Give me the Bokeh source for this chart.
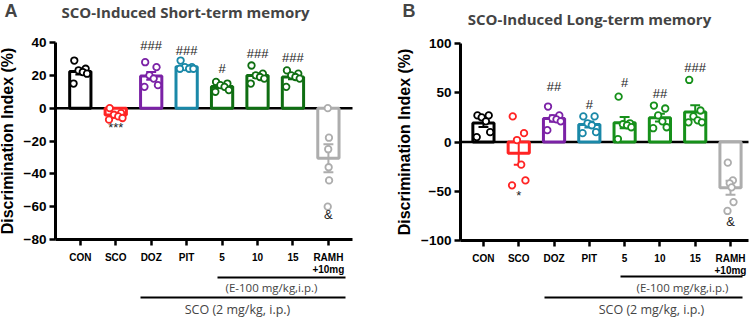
import numpy as np
from bokeh.plotting import figure
from bokeh.models import Range1d, FixedTicker, Label, Arrow, ColumnDataSource
from bokeh.layouts import row
from bokeh.core.properties import value
from bokeh.embed import file_html
from bokeh.resources import INLINE

# ---- data -------------------------------------------------------------
groups = ["CON", "SCO", "DOZ", "PIT", "5", "10", "15", "RAMH"]
tick_labels = ["CON", "SCO", "DOZ", "PIT", "5", "10", "15", "RAMH\n+10mg"]

# Short-term memory, discrimination index (%) per animal
stm_con = [29, 24, 23, 22, 21, 15]
stm_sco = [0, -3, -4, -5, -6, -7]
stm_doz = [28, 25, 20, 18, 14, 13]
stm_pit = [29, 25, 25, 24, 24, 24]
stm_e5 = [16, 15, 14, 13, 11, 10]
stm_e10 = [26, 21, 20, 19, 18, 15]
stm_e15 = [23, 21, 20, 19, 18, 13]
stm_ramh = [0, -18, -25, -36, -44, -60]
stm_marks = ["", "***", "###", "###", "#", "###", "###", "&"]
stm_mark_y = [0, -12, 38, 35, 24, 33, 31, -65]

# Long-term memory, discrimination index (%) per animal
ltm_con = [27, 27, 25, 21, 10, 5]
ltm_sco = [26, 9, 2, -23, -39, -44]
ltm_doz = [36, 27, 24, 23, 21, 12]
ltm_pit = [26, 26, 19, 17, 10, 9]
ltm_e5 = [46, 19, 18, 17, 15, 3]
ltm_e10 = [37, 34, 27, 21, 15, 14]
ltm_e15 = [63, 32, 26, 22, 20, 20]
ltm_ramh = [-21, -39, -42, -46, -61, -70]
ltm_marks = ["", "*", "##", "#", "#", "##", "###", "&"]
ltm_mark_y = [0, -54, 56, 38.5, 60, 49, 76, -81]

colors_a = ["#000000", "#ff2424", "#7b22a6", "#1a88a8", "#0f6e12", "#0f6e12", "#0f6e12", "#adadad"]
colors_b = ["#000000", "#ff2424", "#7b22a6", "#1a88a8", "#16901a", "#16901a", "#16901a", "#adadad"]

# horizontal spread of the individual points inside each bar
spread = [-0.17, 0.15, -0.05, 0.07, 0.19, -0.19]
spread_scale_a = [1, 1, 1, 1, 1, 1, 1, 0.1]
spread_scale_b = [1, 1, 1, 1, 1, 1, 1, 0.45]

ARIAL = "Liberation Sans"
OPEN = "Open Sans"
W, H = 375, 317


def make_panel(series, colors, marks, mark_y, geo, letter, title, title_xy,
               letter_xy, yticks, label_standoff, notes, spread_scale):
    # geo gives the pixel box of the axes and the data span it covers;
    # the plotting frame fills the whole figure so texts around it show.
    left, top, fw, fh = geo["left"], geo["top"], geo["w"], geo["h"]
    x0, x1 = geo["xr"]
    y0, y1 = geo["yr"]
    sx = fw / (x1 - x0)
    sy = fh / (y1 - y0)
    X0, X1 = x0 - left / sx, x0 + (W - left) / sx
    Y0, Y1 = y1 - (H - top) / sy, y1 + top / sy

    p = figure(width=W, height=H, output_backend="svg", toolbar_location=None,
               x_range=Range1d(X0, X1), y_range=Range1d(Y0, Y1),
               min_border=0, min_border_left=0, min_border_right=0,
               min_border_top=0, min_border_bottom=0)
    p.outline_line_color = None
    p.xgrid.visible = False
    p.ygrid.visible = False

    def at(px, py):
        return (x0 + (px - left) / sx, y1 - (py - top) / sy)

    xs = list(range(len(groups)))
    means = [float(np.mean(v)) for v in series]
    sems = [float(np.std(v, ddof=1) / np.sqrt(len(v))) for v in series]

    # zero line across the axis box
    p.segment(x0=[x0], x1=[x1], y0=[0], y1=[0], line_color="black", line_width=2.5)

    bars = ColumnDataSource(dict(x=xs, top=means, color=colors))
    p.vbar(x="x", top="top", bottom=0, width=0.6, source=bars,
           fill_color="white", line_color="color", line_width=3)

    lo = [m - s for m, s in zip(means, sems)]
    hi = [m + s for m, s in zip(means, sems)]
    p.segment(x0=xs, x1=xs, y0=lo, y1=hi, line_color=colors, line_width=2)
    cap = 0.14
    for ys in (lo, hi):
        p.segment(x0=[x - cap for x in xs], x1=[x + cap for x in xs],
                  y0=ys, y1=ys, line_color=colors, line_width=2)

    px_, py_, pc = [], [], []
    for i, vals in enumerate(series):
        for j, v in enumerate(vals):
            px_.append(i + spread_scale[i] * spread[j % len(spread)])
            py_.append(v)
            pc.append(colors[i])
    p.scatter(x=px_, y=py_, marker="circle", size=6.5, fill_color="white",
              line_color=pc, line_width=1.8)

    msrc = ColumnDataSource(dict(x=xs, y=mark_y, t=marks))
    p.text(x="x", y="y", text="t", source=msrc, text_align="center",
           text_baseline="middle", text_font=value(ARIAL), text_font_size="13px",
           text_color="#222222")

    # axes, pinned to the edges of the axis box
    p.yaxis.fixed_location = x0
    p.yaxis.bounds = (y0, y1)
    p.xaxis.fixed_location = y0
    p.xaxis.bounds = (x0, x1)
    p.yaxis.ticker = FixedTicker(ticks=yticks)
    p.xaxis.ticker = FixedTicker(ticks=xs)
    p.xaxis.major_label_overrides = {i: t for i, t in enumerate(tick_labels)}
    for ax in (p.xaxis[0], p.yaxis[0]):
        ax.axis_line_width = 3
        ax.major_tick_line_width = 2.5
        ax.major_tick_out = 6
        ax.major_tick_in = 0
        ax.minor_tick_out = 0
        ax.minor_tick_in = 0
        ax.major_label_text_font = ARIAL
        ax.major_label_text_font_style = "bold"
        ax.major_label_text_color = "black"
    p.yaxis.major_label_text_font_size = "13.5px"
    p.yaxis.major_label_standoff = 3
    p.xaxis.major_label_text_font_size = "10px"
    p.xaxis.major_label_standoff = 6
    p.xaxis.major_label_text_line_height = 1.1
    p.yaxis.axis_label = "Discrimination Index (%)"
    p.yaxis.axis_label_text_font = ARIAL
    p.yaxis.axis_label_text_font_size = "16px"
    p.yaxis.axis_label_text_font_style = "bold"
    p.yaxis.axis_label_text_color = "black"
    p.yaxis.axis_label_standoff = label_standoff

    # panel letter and title
    lx, ly = at(*letter_xy)
    p.add_layout(Label(x=lx, y=ly, text=letter, text_font=ARIAL,
                       text_font_size="18px", text_font_style="bold",
                       text_align="left", text_baseline="middle"))
    tx, ty = at(*title_xy)
    p.add_layout(Label(x=tx, y=ty, text=title, text_font=OPEN,
                       text_font_size="15px", text_font_style="bold",
                       text_align="center", text_baseline="middle"))

    # treatment brackets under the axis
    for (x0p, x1p, yp, txt, tcx, tcy, fs, style) in notes:
        ax0, ay = at(x0p, yp)
        ax1, _ = at(x1p, yp)
        p.add_layout(Arrow(start=None, end=None, x_start=ax0, y_start=ay,
                           x_end=ax1, y_end=ay, line_width=2,
                           line_color="black"))
        cx, cy = at(tcx, tcy)
        p.add_layout(Label(x=cx, y=cy, text=txt, text_font=OPEN,
                           text_font_size=fs, text_font_style=style,
                           text_align="center", text_baseline="middle"))
    return p


geo_a = dict(left=55, top=42, w=297, h=197, xr=(-0.7, 7.68), yr=(-80, 40))
geo_b = dict(left=85, top=43, w=288, h=197, xr=(-0.65, 7.51), yr=(-100, 100))

notes_a = [
    (217, 345, 277, "(E-100 mg/kg,i.p.)", 271, 287, "11.5px", "normal"),
    (140, 345, 297, "SCO (2 mg/kg, i.p.)", 237, 309, "12.5px", "normal"),
]
notes_b = [
    (245, 367, 276, "(E-100 mg/kg,i.p.)", 307, 287, "11.5px", "normal"),
    (169, 367, 297, "SCO (2 mg/kg, i.p.)", 276, 309, "12.5px", "normal"),
]

pa = make_panel([stm_con, stm_sco, stm_doz, stm_pit, stm_e5, stm_e10, stm_e15, stm_ramh],
                colors_a, stm_marks, stm_mark_y, geo_a, "A",
                "SCO-Induced Short-term memory", (185, 11), (4, 10),
                [-80, -60, -40, -20, 0, 20, 40], 5, notes_a, spread_scale_a)
pb = make_panel([ltm_con, ltm_sco, ltm_doz, ltm_pit, ltm_e5, ltm_e10, ltm_e15, ltm_ramh],
                colors_b, ltm_marks, ltm_mark_y, geo_b, "B",
                "SCO-Induced Long-term memory", (214, 18), (27, 10),
                [-100, -50, 0, 50, 100], 5, notes_b, spread_scale_b)

layout = row(pa, pb)
open("out.html", "w").write(file_html(layout, INLINE))
